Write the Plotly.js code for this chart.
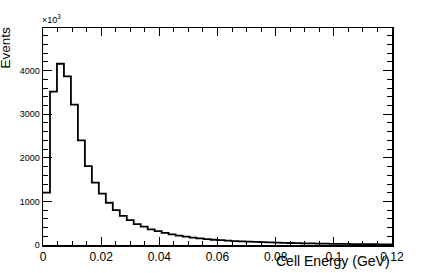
<!DOCTYPE html>
<html>
<head>
<meta charset="utf-8">
<script src="https://cdn.plot.ly/plotly-3.0.1.min.js"></script>
<style>html,body{margin:0;padding:0;background:#fff;}#chart{width:436px;height:273px;}</style>
</head>
<body>
<div id="chart"></div>
<script>
// Histogram binning
var binLow = 0;
var binWidth = 0.0024;
// Bin contents (events per bin)
var counts = [1200, 3520, 4160, 3870, 3220, 2400, 1810, 1430, 1180, 970,
              800, 670, 570, 480, 420, 360, 320, 280, 245, 215,
              190, 170, 150, 135, 120, 110, 100, 91, 83, 76,
              70, 64, 59, 54, 50, 46, 42, 39, 36, 33,
              30, 28, 26, 24, 22, 20, 18, 17, 16, 15];
var xTickVals = [0, 0.02, 0.04, 0.06, 0.08, 0.1, 0.12];
var xTickText = ["0", "0.02", "0.04", "0.06", "0.08", "0.1", "0.12"];
var yTickVals = [0, 1000, 2000, 3000, 4000];
var yTickText = ["0", "1000", "2000", "3000", "4000"];

var xs = [], ys = [];
for (var i = 0; i < counts.length; i++) {
  xs.push(binLow + i * binWidth);
  ys.push(counts[i]);
}
xs.push(binLow + counts.length * binWidth);
ys.push(counts[counts.length - 1]);

var font = "Liberation Sans, Arial, Helvetica, sans-serif";

var trace = {
  x: xs, y: ys, type: 'scatter', mode: 'lines',
  line: {shape: 'hv', color: '#000', width: 1.8},
  hoverinfo: 'none', showlegend: false
};

var layout = {
  width: 436, height: 273,
  margin: {l: 43, r: 44, t: 28, b: 28, pad: 0},
  paper_bgcolor: '#fff', plot_bgcolor: '#fff',
  showlegend: false,
  xaxis: {
    range: [0, 0.12], showgrid: false, zeroline: false,
    showline: true, linecolor: '#000', linewidth: 1.5, mirror: 'ticks',
    ticks: 'inside', ticklen: 8, tickwidth: 1, tickcolor: '#000',
    tickmode: 'array', tickvals: xTickVals, ticktext: xTickText,
    tickfont: {family: font, size: 12, color: '#000'},
    minor: {dtick: 0.005, ticks: 'inside', ticklen: 4, tickwidth: 1, tickcolor: '#000', showgrid: false}
  },
  yaxis: {
    range: [0, 4980], showgrid: false, zeroline: false,
    showline: true, linecolor: '#000', linewidth: 1.5, mirror: 'ticks',
    ticks: 'inside', ticklen: 9, tickwidth: 1, tickcolor: '#000',
    tickmode: 'array', tickvals: yTickVals, ticktext: yTickText,
    tickfont: {family: font, size: 9, color: '#000'},
    minor: {dtick: 200, ticks: 'inside', ticklen: 5, tickwidth: 1, tickcolor: '#000', showgrid: false}
  },
  annotations: [
    {text: 'Events', xref: 'paper', yref: 'paper', x: -0.106, y: 0.91,
     xanchor: 'center', yanchor: 'middle', textangle: -90, showarrow: false,
     font: {family: font, size: 13.5, color: '#000'}},
    {text: 'Cell Energy (GeV)', xref: 'paper', yref: 'paper', x: 1, y: -0.076,
     xanchor: 'right', yanchor: 'middle', showarrow: false,
     font: {family: font, size: 14, color: '#000'}},
    {text: '×10<sup>3</sup>', xref: 'paper', yref: 'paper', x: 0, y: 1.04,
     xanchor: 'left', yanchor: 'middle', showarrow: false, xshift: -3,
     font: {family: font, size: 9, color: '#000'}}
  ]
};

Plotly.newPlot('chart', [trace], layout, {displayModeBar: false, staticPlot: true});
</script>
</body>
</html>
